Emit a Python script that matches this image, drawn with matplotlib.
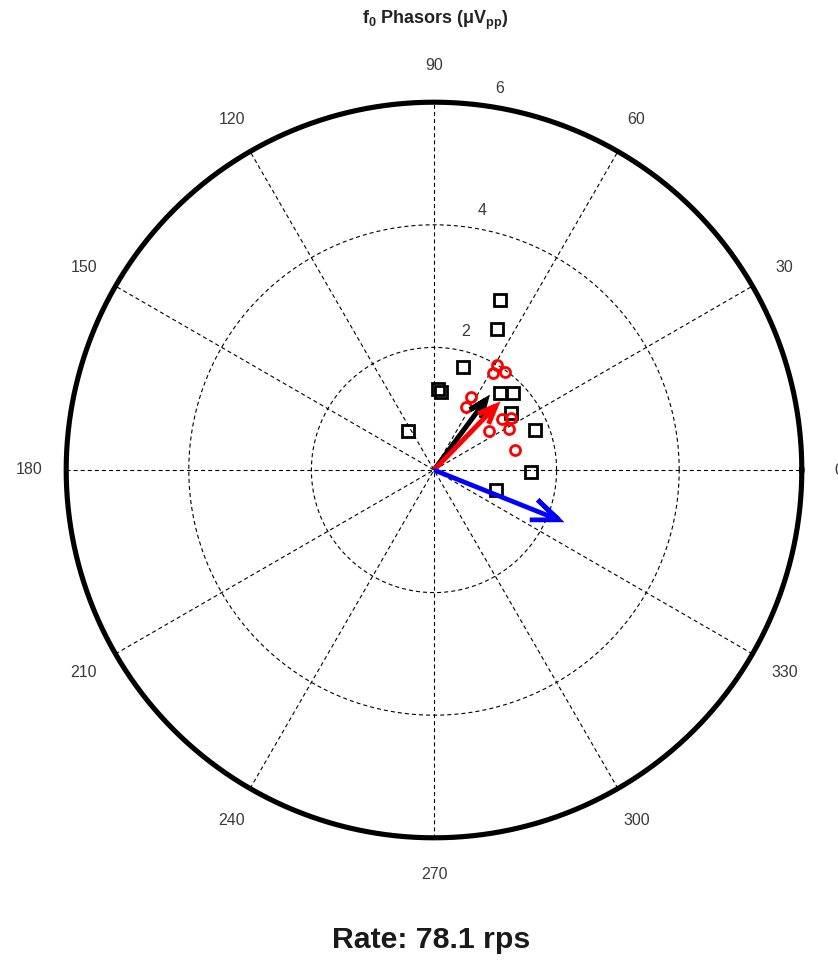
import numpy as np
import matplotlib
matplotlib.use("Agg")
import matplotlib.pyplot as plt

plt.rcParams["font.family"] = ["Liberation Sans", "DejaVu Sans"]
plt.rcParams["mathtext.default"] = "regular"
plt.rcParams["lines.scale_dashes"] = False

# Single-sweep phasors: amplitude (uVpp) and phase (deg)
square_amp = [2.98, 2.51, 1.74, 1.33, 1.27, 1.65, 1.80, 1.57, 1.77, 0.77, 1.59, 1.06]
square_phase = [68.9, 66.0, 74.1, 87.3, 85.2, 49.5, 44.1, 36.6, 21.7, 123.9, -1.0, -18.0]
circle_amp = [2.00, 1.85, 1.98, 1.34, 1.15, 1.39, 1.52, 1.39, 1.10, 1.36]
circle_phase = [58.9, 58.5, 54.0, 63.1, 63.3, 36.8, 33.8, 28.6, 35.6, 13.9]
noise_amp = 2.19
noise_phase = -21.8

ring_values = [2, 4, 6]
angle_labels = [0, 30, 60, 90, 120, 150, 180, 210, 240, 270, 300, 330]
title_text = "f$_0$ Phasors (μV$_{pp}$)"
rate_text = "Rate: 78.1 rps"

rmax = 6.0
label_color = "#3a3a3a"


def to_complex(amp, phase_deg):
    return np.asarray(amp) * np.exp(1j * np.deg2rad(np.asarray(phase_deg)))


def compass_arrow(ax, z, color, lw):
    # shaft plus two head strokes, compass-style
    pts = np.array([0, z, 0.8 * z + 0.08j * z, z, 0.8 * z - 0.08j * z])
    ax.plot(pts.real, pts.imag, color=color, lw=lw, solid_joinstyle="miter",
            solid_capstyle="butt", zorder=6)


fig = plt.figure(figsize=(8.38, 9.60), dpi=100)
ax = fig.add_axes([0, 0, 1, 1])
scale = 61.3  # pixels per unit
cx, cy = 434.0, 470.0
ax.set_xlim(-cx / scale, (838 - cx) / scale)
ax.set_ylim(-(960 - cy) / scale, cy / scale)
ax.axis("off")

dash = (0, (2.9, 2.2))
t = np.linspace(0, 2 * np.pi, 721)

# dashed range rings and spokes
for r in ring_values[:-1]:
    ax.plot(r * np.cos(t), r * np.sin(t), color="black", lw=0.8, ls=dash, zorder=1)
for a in range(0, 180, 30):
    ar = np.deg2rad(a)
    ax.plot([-rmax * np.cos(ar), rmax * np.cos(ar)],
            [-rmax * np.sin(ar), rmax * np.sin(ar)],
            color="black", lw=0.8, ls=dash, zorder=1)

# outer boundary
ax.plot(rmax * np.cos(t), rmax * np.sin(t), color="black", lw=3.7, zorder=2)

# ring labels
d82 = np.exp(1j * np.deg2rad(82))
for r in ring_values:
    anchor = (r + 0.1) * d82
    ax.annotate(str(r), (anchor.real, anchor.imag), xytext=(9.7, 7.9),
                textcoords="offset points", ha="center", va="center",
                fontsize=11.5, color=label_color, annotation_clip=False)

# angle labels
for a in angle_labels:
    p = 1.1 * rmax * np.exp(1j * np.deg2rad(a))
    ax.text(p.real, p.imag, str(a), ha="center", va="center",
            fontsize=11.5, color=label_color, clip_on=False)

# individual phasors
zs = to_complex(square_amp, square_phase)
zc = to_complex(circle_amp, circle_phase)
ax.plot(zs.real, zs.imag, ls="none", marker="s", ms=8.3, mew=2.0,
        mfc="none", mec="black", zorder=3)
ax.plot(zc.real, zc.imag, ls="none", marker="o", ms=7.2, mew=2.0,
        mfc="none", mec="red", zorder=4)

# mean vectors and noise vector
compass_arrow(ax, zs.mean(), "black", 3.6)
compass_arrow(ax, zc.mean(), "red", 3.6)
compass_arrow(ax, to_complex(noise_amp, noise_phase), "blue", 3.4)

fig.text(435 / 838, 1 - 20 / 960, title_text, ha="center", va="center",
         fontsize=13, fontweight="bold", color="#222222")
fig.text(431 / 838, 1 - 940 / 960, rate_text, ha="center", va="center",
         fontsize=21.8, fontweight="bold", color="#1a1a1a")

fig.savefig("out.png", dpi=100)
